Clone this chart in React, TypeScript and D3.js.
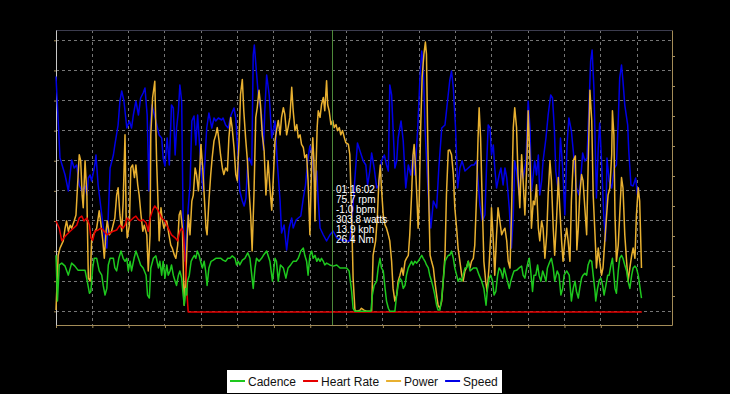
import React, { useEffect, useRef } from "react";
import * as d3 from "d3";

// elapsed time in minutes
const speedData: [number, number][] = [
  [0, 46.9], [1.1, 30.6], [2.5, 27.2], [3.4, 24], [4.3, 30.2], [5.0, 28.6], [5.7, 29.2], [6.4, 25.2], [7.1, 24], [8.0, 25],
  [8.5, 23.2], [8.9, 26.6], [9.4, 27.2], [9.8, 26], [10.7, 29.2], [11.0, 31.2], [11.6, 25.2], [12.6, 19.2], [13.5, 14], [14.0, 12.6],
  [14.4, 19.2], [14.9, 28.6], [15.8, 31.2], [16.2, 33.2], [17.1, 37.2], [17.6, 42], [18.1, 44], [18.7, 42], [19.5, 36.6], [20.2, 38],
  [20.8, 36.6], [21.3, 39.2], [22.0, 42], [22.7, 39.2], [23.3, 42.6], [24.0, 43.6], [24.5, 44.6], [25.1, 39.2], [25.6, 24], [25.9, 36.6],
  [26.4, 41.2], [27.5, 38], [28.4, 35.2], [29.1, 34.6], [29.5, 30.6], [30.0, 29], [30.6, 34.6], [31.2, 29.2], [31.8, 41.2], [32.3, 40.6],
  [32.8, 31.2], [33.2, 36.6], [33.7, 40], [34.1, 45.2], [34.6, 42], [35.0, 18], [35.5, 10], [36.4, 20.6], [36.9, 25.2], [37.4, 38],
  [38.0, 39], [38.5, 33.2], [39.0, 39.2], [39.4, 34.6], [40.1, 26.6], [40.5, 24], [41.0, 30], [41.5, 36.6], [42.1, 39.6], [42.9, 36.6],
  [43.5, 38.6], [44.0, 38], [44.7, 38.6], [45.6, 38.2], [46.0, 38.6], [46.7, 37.2], [47.4, 36.6], [48.2, 39.2], [49.0, 40.6], [49.5, 38.6],
  [50.2, 30], [50.6, 24], [51.3, 22], [51.8, 21], [52.3, 22.6], [52.8, 30], [53.2, 30.6], [53.9, 29.2], [54.3, 51.2], [54.6, 53.2],
  [55.1, 48.6], [55.7, 43.2], [56.6, 39.2], [57.1, 32.2], [57.5, 40.2], [58.0, 47.2], [58.7, 43.2], [59.4, 34.6], [60.3, 38], [60.9, 30],
  [61.7, 22], [62.1, 15.6], [62.8, 17.2], [63.5, 12.2], [64.2, 16.6], [64.9, 18.6], [65.3, 16.6], [66.1, 18.2], [66.7, 18.6], [67.4, 19],
  [68.1, 22.6], [68.7, 25.2], [69.3, 30], [69.9, 33], [70.4, 32], [70.8, 28.6], [71.3, 25.2], [71.8, 28], [72.2, 22], [72.7, 16.6],
  [73.6, 15.2], [74.5, 14], [75.4, 15.2], [76.3, 16], [77.3, 14.6], [78.6, 14.2], [80.0, 14], [80.9, 14], [81.6, 19.2], [82.3, 26.6],
  [83.0, 33.6], [83.7, 32], [84.6, 30], [85.3, 29.2], [85.8, 25.2], [86.4, 28], [86.9, 31.6], [87.6, 28.6], [88.3, 24.6], [88.9, 25.2],
  [89.6, 30], [90.4, 31.2], [91.0, 29.2], [91.5, 28], [91.9, 45.2], [92.4, 43.2], [92.8, 36.6], [93.3, 28.6], [93.8, 30], [94.2, 34.6],
  [95.0, 38], [95.6, 34], [96.3, 24.6], [97.0, 29.2], [97.7, 27.2], [98.3, 31.2], [98.8, 27.2], [99.6, 36.6], [100.2, 46.6], [100.7, 52],
  [101.1, 49.2], [101.6, 36.6], [102.5, 23.2], [103.2, 16.6], [103.9, 22], [104.8, 20.6], [105.4, 28.6], [106.2, 36.6], [107.1, 37.2], [107.8, 42],
  [108.4, 46], [108.9, 48], [109.4, 44.6], [110.0, 36.6], [110.6, 24.6], [111.2, 28.6], [111.8, 30], [112.6, 28], [113.5, 28.6], [114.4, 29.2],
  [115.1, 29.2], [115.8, 30], [116.7, 21.2], [117.4, 18], [118.1, 19.2], [118.6, 30], [119.0, 37.2], [119.5, 36.6], [119.9, 31.2], [120.4, 33.2],
  [120.8, 28.6], [121.3, 24.6], [122.0, 27.2], [122.5, 28.6], [123.1, 25.2], [123.6, 28.6], [124.1, 26.6], [124.8, 20.6], [125.4, 12.6], [125.9, 19.2],
  [126.3, 30], [126.8, 28], [127.5, 23.2], [128.2, 28.6], [128.6, 26.6], [129.4, 30], [130.0, 42], [130.5, 36.6], [130.9, 24], [131.4, 27.2],
  [131.8, 30], [132.3, 27.2], [132.8, 31.2], [133.2, 23.2], [133.7, 26], [134.1, 30], [134.9, 34.6], [135.5, 39.2], [136.2, 43.2], [136.7, 42.6],
  [137.2, 36.6], [137.6, 28], [138.3, 24], [138.9, 34.6], [139.5, 28.6], [140.1, 19.2], [140.7, 33.2], [141.2, 38.6], [141.9, 36], [142.6, 30.6],
  [143.3, 24.6], [144.0, 23.2], [144.5, 26.6], [145.0, 31.6], [145.6, 30], [146.2, 30.6], [146.7, 40], [147.2, 50], [147.6, 52.2], [148.1, 44.6],
  [148.6, 28.6], [148.8, 22.6], [149.3, 32.6], [149.7, 37.6], [150.2, 30], [150.8, 19.2], [151.3, 14], [151.7, 30.6], [152.3, 26], [153.0, 24.6],
  [153.7, 28.6], [154.3, 29.2], [154.8, 38], [155.2, 46.6], [155.7, 49.2], [156.1, 46], [156.6, 41.2], [157.4, 37.2], [157.7, 32], [158.3, 25.2],
  [158.9, 25], [159.6, 26.6], [160.1, 23.2], [160.5, 24.6]
];

const powerData: [number, number][] = [
  [0, 2], [0.6, 93], [1.1, 105], [2.0, 117], [2.5, 138], [2.9, 150], [3.4, 133], [3.9, 143], [4.3, 138], [5.0, 150],
  [5.5, 160], [5.9, 205], [6.4, 260], [6.8, 250], [7.2, 193], [7.5, 172], [8.0, 250], [8.5, 193], [8.9, 55], [9.4, 50],
  [9.8, 117], [10.3, 127], [11.2, 138], [11.9, 167], [12.4, 143], [12.9, 117], [13.3, 88], [13.8, 133], [14.1, 150], [14.7, 127],
  [15.3, 133], [16.2, 155], [16.7, 193], [17.1, 205], [17.6, 160], [18.1, 133], [18.5, 183], [19.0, 293], [19.3, 160], [19.6, 122],
  [20.2, 143], [20.6, 238], [21.1, 243], [21.6, 222], [22.0, 243], [22.5, 210], [22.9, 193], [23.4, 160], [23.9, 133], [24.3, 143],
  [25.0, 127], [25.4, 67], [25.9, 127], [26.1, 293], [26.6, 355], [27.2, 382], [27.7, 250], [28.2, 160], [28.4, 117], [28.9, 172],
  [29.3, 150], [29.7, 138], [30.5, 150], [31.1, 127], [31.6, 110], [32.0, 105], [32.6, 93], [33.0, 88], [33.5, 110], [33.9, 160],
  [34.3, 167], [34.8, 138], [35.0, 83], [35.3, 10], [35.7, 50], [36.1, 117], [36.4, 160], [36.9, 127], [37.4, 183], [37.8, 193],
  [38.3, 238], [38.7, 227], [39.2, 200], [39.6, 238], [39.9, 277], [40.4, 238], [40.8, 193], [41.3, 138], [41.6, 127], [42.1, 183],
  [42.6, 227], [43.0, 255], [43.5, 283], [44.0, 293], [44.4, 305], [44.9, 283], [45.3, 260], [45.8, 238], [46.2, 227], [46.7, 238],
  [47.2, 233], [47.6, 288], [48.1, 322], [48.5, 305], [49.0, 272], [49.5, 227], [49.9, 217], [50.4, 283], [50.8, 360], [51.3, 385],
  [51.7, 333], [52.2, 288], [52.7, 250], [53.1, 205], [53.6, 160], [54.0, 100], [54.5, 193], [55.0, 322], [55.4, 338], [55.9, 367],
  [56.3, 343], [56.8, 293], [57.3, 267], [57.8, 193], [58.4, 250], [58.9, 205], [59.4, 168], [59.8, 217], [60.3, 283], [60.7, 300],
  [61.2, 317], [61.7, 293], [62.1, 322], [62.6, 338], [63.0, 327], [63.5, 293], [63.9, 305], [64.4, 322], [64.9, 372], [65.3, 333],
  [65.8, 300], [66.3, 310], [66.7, 288], [67.2, 293], [67.6, 277], [68.1, 272], [68.5, 255], [69.0, 260], [69.4, 217], [69.9, 127],
  [70.4, 250], [70.7, 288], [71.0, 250], [71.3, 150], [71.6, 238], [71.9, 305], [72.2, 333], [72.7, 322], [73.1, 343], [73.6, 355],
  [74.0, 333], [74.5, 383], [74.8, 343], [75.2, 333], [75.7, 310], [76.2, 317], [76.6, 305], [77.1, 310], [77.5, 300], [78.0, 305],
  [78.4, 293], [78.9, 300], [79.4, 288], [79.8, 280], [80.5, 277], [80.9, 260], [81.4, 160], [81.8, 55], [82.3, 2], [82.8, 0],
  [83.7, 2], [84.1, 5], [84.8, 2], [85.5, 0], [86.9, 0], [87.3, 93], [88.0, 117], [88.5, 160], [88.9, 217], [89.3, 243],
  [89.6, 205], [90.1, 160], [90.6, 143], [91.0, 138], [91.5, 127], [91.9, 117], [92.4, 83], [92.8, 38], [93.3, 17], [93.8, 27],
  [94.2, 50], [94.7, 60], [95.2, 72], [95.6, 60], [96.1, 83], [96.5, 88], [97.0, 93], [97.4, 127], [97.9, 193], [98.3, 260],
  [98.6, 277], [99.0, 238], [99.4, 183], [99.7, 138], [100.0, 183], [100.4, 305], [100.8, 388], [101.3, 427], [101.7, 447], [102.0, 427],
  [102.3, 305], [102.7, 167], [103.0, 93], [103.4, 83], [103.9, 72], [104.3, 50], [104.8, 27], [105.2, 10], [105.7, 5], [106.2, 17],
  [106.6, 50], [107.1, 93], [107.5, 193], [108.0, 267], [108.4, 268], [108.9, 260], [109.4, 227], [109.8, 172], [110.3, 138], [110.7, 105],
  [111.2, 83], [111.7, 60], [112.1, 50], [112.6, 67], [113.0, 72], [113.5, 83], [114.0, 72], [114.4, 83], [114.9, 88], [115.3, 110],
  [115.8, 193], [116.2, 288], [116.5, 338], [116.9, 288], [117.3, 193], [117.8, 83], [118.3, 50], [118.7, 33], [119.2, 72], [119.7, 127],
  [119.9, 172], [120.4, 117], [120.8, 60], [121.3, 127], [121.7, 172], [122.2, 150], [122.7, 127], [123.1, 133], [123.6, 138], [124.1, 117],
  [124.5, 83], [125.0, 72], [125.4, 160], [125.9, 305], [126.3, 338], [126.8, 305], [127.2, 227], [127.7, 172], [128.2, 260], [128.6, 217],
  [129.1, 160], [129.6, 238], [130.0, 333], [130.5, 250], [130.9, 138], [131.4, 183], [131.8, 177], [132.3, 210], [132.8, 138], [133.2, 117],
  [133.7, 150], [134.1, 138], [134.6, 88], [135.1, 127], [135.5, 193], [136.0, 250], [136.4, 217], [136.9, 138], [137.3, 93], [137.8, 150],
  [138.3, 222], [138.7, 172], [139.2, 117], [139.6, 83], [140.1, 117], [140.6, 138], [141.0, 117], [141.5, 83], [141.9, 183], [142.4, 250],
  [143.0, 258], [143.4, 102], [143.8, 138], [144.2, 193], [144.7, 227], [145.1, 217], [145.6, 172], [146.1, 127], [146.5, 238], [147.0, 367],
  [147.5, 317], [147.9, 193], [148.4, 127], [148.8, 72], [149.3, 105], [149.7, 83], [150.2, 60], [150.6, 72], [151.1, 117], [151.6, 160],
  [152.0, 193], [152.5, 205], [153.0, 260], [153.2, 333], [153.6, 293], [153.9, 160], [154.3, 83], [154.8, 110], [155.2, 160], [155.7, 222],
  [156.1, 205], [156.6, 127], [157.1, 83], [157.5, 50], [158.0, 72], [158.5, 93], [158.9, 105], [159.4, 88], [159.8, 160], [160.3, 205],
  [160.7, 183], [161.2, 72]
];

const cadenceData: [number, number][] = [
  [0, 93], [0.4, 17], [0.9, 77], [1.6, 80], [2.5, 75], [3.4, 60], [4.3, 80], [5.2, 75], [6.1, 68], [7.1, 68],
  [8.0, 68], [8.6, 50], [9.2, 30], [9.6, 33], [10.1, 72], [10.5, 88], [11.2, 88], [11.9, 67], [12.6, 60], [13.0, 43],
  [13.5, 27], [14.0, 38], [14.4, 77], [14.9, 88], [15.8, 88], [16.2, 72], [16.7, 67], [17.3, 88], [17.9, 100], [18.5, 88],
  [19.0, 83], [19.5, 88], [19.9, 67], [20.4, 83], [20.8, 67], [21.5, 88], [22.0, 100], [22.7, 88], [23.3, 77], [24.0, 72],
  [24.8, 60], [25.2, 27], [25.7, 22], [26.1, 72], [26.8, 88], [27.5, 92], [28.2, 72], [28.6, 83], [29.1, 60], [29.5, 83],
  [30.0, 55], [30.5, 77], [30.9, 60], [31.4, 67], [31.8, 77], [32.3, 60], [32.8, 50], [33.2, 43], [33.7, 60], [34.1, 67],
  [34.6, 55], [35.0, 27], [35.3, 10], [35.7, 38], [36.0, 27], [36.2, 50], [36.7, 60], [37.2, 83], [37.6, 88], [38.1, 93],
  [38.5, 88], [38.9, 100], [39.4, 93], [39.8, 83], [40.3, 72], [40.8, 83], [41.2, 67], [41.6, 43], [42.1, 72], [42.7, 83],
  [43.3, 85], [44.0, 88], [44.7, 88], [45.4, 88], [46.0, 85], [46.7, 83], [47.3, 88], [47.9, 88], [48.5, 92], [49.3, 88],
  [49.7, 77], [50.2, 83], [50.6, 77], [51.3, 85], [52.0, 88], [52.8, 97], [53.4, 88], [53.9, 60], [54.3, 38], [54.8, 72],
  [55.2, 88], [55.9, 83], [56.6, 88], [57.1, 93], [58.0, 100], [58.9, 83], [59.6, 50], [60.3, 88], [60.7, 83], [61.2, 50],
  [61.8, 77], [62.6, 72], [63.3, 55], [63.9, 72], [64.6, 77], [65.3, 83], [66.1, 83], [66.7, 88], [67.4, 100], [68.1, 105],
  [68.5, 93], [69.0, 83], [69.4, 60], [69.9, 93], [70.4, 100], [70.8, 88], [71.3, 93], [71.8, 83], [72.2, 88], [72.7, 83],
  [73.1, 88], [73.6, 83], [74.0, 77], [74.5, 80], [75.4, 77], [76.3, 75], [77.3, 77], [78.2, 72], [79.1, 72], [80.0, 72],
  [80.7, 67], [81.4, 33], [81.8, 5], [82.3, 0], [86.7, 0], [87.1, 27], [87.6, 43], [88.3, 50], [88.7, 72], [89.2, 88],
  [89.6, 72], [90.1, 67], [90.6, 38], [91.0, 17], [91.5, 5], [91.9, 0], [93.3, 0], [93.8, 27], [94.2, 43], [94.7, 55],
  [95.2, 50], [95.6, 38], [96.1, 43], [96.5, 60], [97.0, 72], [97.4, 77], [97.9, 83], [98.3, 77], [98.8, 83], [99.3, 80],
  [99.7, 83], [100.2, 88], [100.7, 93], [101.1, 88], [101.6, 83], [102.0, 77], [102.5, 72], [102.9, 60], [103.4, 50], [103.9, 38],
  [104.3, 27], [104.8, 10], [105.2, 2], [105.7, 2], [106.2, 22], [106.6, 50], [107.1, 83], [107.5, 88], [108.0, 93], [108.4, 93],
  [108.9, 100], [109.4, 88], [109.8, 72], [110.3, 60], [110.7, 50], [111.2, 55], [111.7, 50], [112.1, 60], [112.6, 72], [113.0, 72],
  [113.5, 83], [114.0, 67], [114.9, 72], [115.8, 72], [116.5, 60], [117.2, 50], [117.8, 38], [118.4, 10], [118.8, 38], [119.3, 55],
  [119.7, 60], [120.2, 50], [120.6, 27], [121.1, 33], [121.6, 60], [122.0, 72], [122.5, 67], [123.0, 55], [123.4, 72], [123.9, 60],
  [124.3, 50], [124.8, 38], [125.2, 50], [125.7, 60], [126.1, 67], [126.8, 68], [127.5, 72], [128.2, 75], [128.6, 60], [129.1, 55],
  [129.6, 72], [130.0, 83], [130.3, 88], [130.7, 67], [131.2, 33], [131.6, 60], [132.1, 60], [132.6, 77], [133.0, 60], [133.5, 50],
  [134.0, 67], [134.4, 60], [134.9, 50], [135.3, 72], [136.0, 83], [136.4, 88], [136.9, 72], [137.3, 50], [138.0, 67], [138.5, 60],
  [139.0, 27], [139.5, 38], [139.9, 60], [140.6, 67], [141.3, 60], [141.9, 17], [142.4, 38], [142.9, 50], [143.3, 33], [143.8, 22],
  [144.2, 38], [144.7, 55], [145.1, 60], [145.6, 63], [146.1, 60], [146.5, 77], [147.0, 85], [147.5, 83], [147.9, 60], [148.4, 33],
  [148.6, 17], [149.1, 38], [149.6, 52], [150.0, 55], [150.5, 43], [150.9, 27], [151.4, 43], [151.9, 60], [152.3, 60], [152.8, 77],
  [153.2, 88], [153.9, 38], [154.3, 30], [154.8, 67], [155.2, 88], [155.7, 93], [156.1, 88], [156.6, 77], [157.1, 67], [157.5, 50],
  [158.0, 38], [158.5, 60], [158.9, 72], [159.4, 75], [159.8, 72], [160.3, 60], [160.7, 43], [161.2, 22]
];

const heartRateData: [number, number][] = [
  [0, 150], [0.9, 138], [1.6, 117], [2.2, 122], [2.9, 127], [3.9, 133], [4.8, 138], [5.7, 143], [6.4, 155], [7.1, 158],
  [7.7, 150], [8.5, 155], [9.2, 143], [9.6, 122], [10.1, 118], [10.7, 133], [11.6, 135], [12.3, 138], [13.0, 135], [14.0, 127],
  [14.9, 130], [15.8, 133], [16.7, 135], [17.6, 143], [18.4, 138], [19.0, 143], [19.6, 155], [20.4, 150], [21.3, 155], [22.0, 158],
  [22.7, 152], [23.3, 150], [24.0, 152], [24.8, 147], [25.4, 133], [25.9, 155], [26.6, 168], [27.2, 175], [28.2, 167], [29.1, 155],
  [30.0, 150], [30.9, 138], [31.8, 127], [32.8, 122], [33.5, 117], [34.1, 133], [34.6, 138], [35.0, 133], [35.3, 110], [35.7, 72],
  [36.0, 38], [36.2, 17], [36.4, -1], [161.3, -1]
];

const timeTicks = [0, 10, 20, 30, 40, 50, 60, 70, 80, 90, 100, 110, 120, 130, 140, 150, 160];
const leftTicks = [0, 50, 100, 150, 200, 250, 300, 350, 400, 450];
const speedTicks = [3, 9, 15, 21, 27, 33, 39, 45, 51];

const seriesNames = ["Cadence", "Heart Rate", "Power", "Speed"];
const seriesColors = ["#1ec81e", "#e60000", "#e8b030", "#0000e6"];

const cursorTime = 76.03;
const cursorLabels = ["01:16:02", "75.7 rpm", "-1.0 bpm", "303.8 watts", "13.9 kph", "26.4 Nm"];

const App = () => {
  const ref = useRef<SVGSVGElement>(null);

  useEffect(() => {
    document.body.style.margin = "0";
    document.body.style.background = "#000";

    const svg = d3.select(ref.current);
    svg.selectAll("*").remove();

    const left = 56, right = 672, top = 30, bottom = 325;
    const font = "'Liberation Sans', Arial, sans-serif";

    const x = d3.scaleLinear().domain([0, 169.6]).range([left, right]);
    const yLeft = d3.scaleLinear().domain([-22.75, 467.1]).range([bottom, top]);
    const ySpeed = d3.scaleLinear().domain([-2.8, 56.2]).range([bottom, top]);

    const grid = svg.append("g").attr("shape-rendering", "crispEdges");

    // horizontal grid
    grid.selectAll("line.h")
      .data(leftTicks)
      .enter()
      .append("line")
      .attr("x1", left)
      .attr("x2", right)
      .attr("y1", (d) => Math.floor(yLeft(d)) + 0.5)
      .attr("y2", (d) => Math.floor(yLeft(d)) + 0.5)
      .attr("stroke", "#767676")
      .attr("stroke-dasharray", "3,3");

    // vertical grid
    grid.selectAll("line.v")
      .data(timeTicks.slice(1))
      .enter()
      .append("line")
      .attr("x1", (d) => Math.floor(x(d)) + 0.5)
      .attr("x2", (d) => Math.floor(x(d)) + 0.5)
      .attr("y1", top)
      .attr("y2", bottom)
      .attr("stroke", "#767676")
      .attr("stroke-dasharray", "3,3");

    // top border
    grid.append("line")
      .attr("x1", left).attr("x2", right)
      .attr("y1", top + 0.5).attr("y2", top + 0.5)
      .attr("stroke", "#3c3c4e");

    const axisColor = "#a48c58";

    const xAxis = d3.axisBottom(x).tickValues(timeTicks).tickSize(3).tickSizeOuter(0).tickFormat(() => "");
    const gx = svg.append("g").attr("transform", `translate(0,${bottom})`).call(xAxis);
    gx.select(".domain").attr("stroke", axisColor);
    gx.selectAll(".tick line").attr("stroke", axisColor);

    const yAxis = d3.axisLeft(yLeft).tickValues(leftTicks).tickSize(2).tickSizeOuter(0).tickFormat(() => "");
    const gy = svg.append("g").attr("transform", `translate(${left},0)`).call(yAxis);
    gy.select(".domain").attr("stroke", "#c8c8c8");
    gy.selectAll(".tick line").attr("stroke", axisColor);

    const sAxis = d3.axisRight(ySpeed).tickValues(speedTicks).tickSize(3).tickSizeOuter(0).tickFormat(() => "");
    const gs = svg.append("g").attr("transform", `translate(${right},0)`).call(sAxis);
    gs.select(".domain").attr("stroke", axisColor);
    gs.selectAll(".tick line").attr("stroke", axisColor);

    const leftLine = d3.line<[number, number]>()
      .x((d) => x(d[0]))
      .y((d) => yLeft(d[1]));
    const speedLine = d3.line<[number, number]>()
      .x((d) => x(d[0]))
      .y((d) => ySpeed(d[1]));

    const lines = svg.append("g").attr("fill", "none").attr("stroke-width", 1.5).attr("stroke-linejoin", "round");
    lines.append("path").datum(speedData).attr("d", speedLine).attr("stroke", seriesColors[3]);
    lines.append("path").datum(powerData).attr("d", leftLine).attr("stroke", seriesColors[2]);
    lines.append("path").datum(heartRateData).attr("d", leftLine).attr("stroke", seriesColors[1]);
    lines.append("path").datum(cadenceData).attr("d", leftLine).attr("stroke", seriesColors[0]);

    // cursor
    const cx = Math.floor(x(cursorTime)) + 0.5;
    svg.append("line")
      .attr("x1", cx).attr("x2", cx)
      .attr("y1", top).attr("y2", bottom)
      .attr("stroke", "#4e8a3a")
      .attr("shape-rendering", "crispEdges");

    svg.append("g")
      .selectAll("text")
      .data(cursorLabels)
      .enter()
      .append("text")
      .attr("x", cx + 3.5)
      .attr("y", (d, i) => 193 + i * 10)
      .attr("fill", "#fff")
      .attr("font-family", font)
      .attr("font-size", "10px")
      .text((d) => d);

    // legend
    const legend = svg.append("g");
    legend.append("rect")
      .attr("x", 227).attr("y", 370)
      .attr("width", 275).attr("height", 23)
      .attr("fill", "#fff");
    let lx = 230;
    seriesNames.forEach((name, i) => {
      legend.append("line")
        .attr("x1", lx).attr("x2", lx + 15)
        .attr("y1", 381).attr("y2", 381)
        .attr("stroke", seriesColors[i])
        .attr("stroke-width", 2);
      const t = legend.append("text")
        .attr("x", lx + 18)
        .attr("y", 386)
        .attr("fill", "#111")
        .attr("font-family", font)
        .attr("font-size", "12px")
        .text(name);
      const w = (t.node() as SVGTextElement).getComputedTextLength();
      lx = lx + 18 + w + 7;
    });
  }, []);

  return <svg ref={ref} width={730} height={394} style={{ display: "block", background: "#000" }} />;
};

export default App;
